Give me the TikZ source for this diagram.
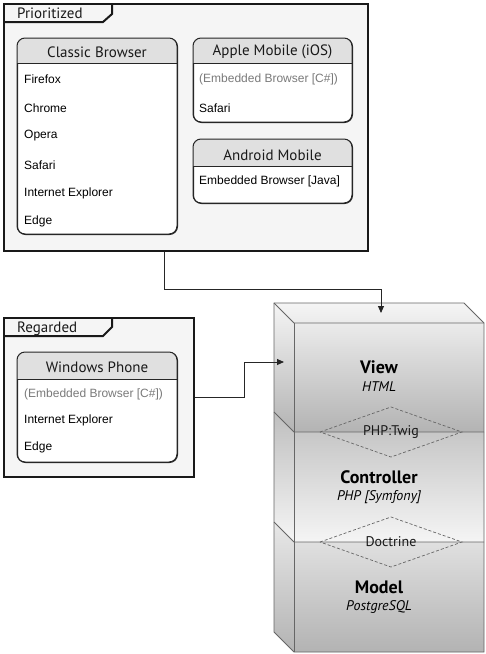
\documentclass[tikz,border=0pt]{standalone}
\usepackage{fontspec}
\setmainfont{Liberation Sans}
\newfontfamily\dinfont{PT Sans}
\usetikzlibrary{arrows.meta}
\definecolor{framebg}{HTML}{F5F5F5}
\definecolor{hdrbg}{HTML}{E0E0E0}
\definecolor{graytxt}{HTML}{7A7A7A}
\definecolor{cubelight}{HTML}{F5F5F5}
\definecolor{cubedark}{HTML}{B3B3B3}
\definecolor{cubeline}{HTML}{666666}
\tikzset{
  frame/.style={draw=black!90, line width=2pt, fill=framebg, inner sep=0pt, anchor=north west},
  tabline/.style={draw=black!90, line width=2pt, line join=miter},
  card/.style={draw=black!85, line width=1pt, fill=white, rounded corners=8pt, inner sep=0pt, anchor=north west},
  hdr/.style={font=\dinfont\fontsize{15}{17}\selectfont, inner sep=0pt, text=black!90},
  tablabel/.style={font=\dinfont\fontsize{15}{17}\selectfont, inner sep=0pt, anchor=west, text=black!90},
  item/.style={font=\fontsize{12}{14}\selectfont, inner sep=0pt, anchor=west},
  gitem/.style={item, text=graytxt},
  conn/.style={draw=black!85, line width=0.9pt},
  arr/.style={conn, -{Triangle[length=7pt,width=6pt]}},
  layer/.style={font=\dinfont\bfseries\fontsize{18}{20}\selectfont, inner sep=0pt},
  tech/.style={font=\dinfont\itshape\fontsize{14}{16}\selectfont, inner sep=0pt},
  rel/.style={inner sep=0pt, font=\dinfont\fontsize{14}{16}\selectfont, text=black!90},
  reldash/.style={draw=black!60, line width=0.7pt, dash pattern=on 3pt off 2pt},
  cubeedge/.style={draw=cubeline, line width=0.9pt, line join=miter}
}
\begin{document}
\begin{tikzpicture}[x=1pt,y=-1pt]
\useasboundingbox (0,0) rectangle (486,654);

% ---------- Prioritized frame ----------
\node[frame, minimum width=364pt, minimum height=247pt] (prio) at (3,3) {};
\draw[tabline] (3,22) -- (103,22) -- (112,14) -- (112,3);
\node[tablabel] (priolbl) at (17,13) {Prioritized};

% Classic Browser
\node[card, minimum width=160pt, minimum height=196pt] (classic) at (17,38) {};
\begin{scope}
  \clip[rounded corners=8pt] (17,38) rectangle (177,234);
  \fill[hdrbg] (17,38) rectangle (177,63);
\end{scope}
\draw[black!85, line width=1pt] (17,63) -- (177,63);
\draw[black!85, line width=1pt, rounded corners=8pt] (17,38) rectangle (177,234);
\node[hdr] (classichdr) at (97,52) {Classic Browser};
\node[item] (c1) at (24,79) {Firefox};
\node[item] (c2) at (24,108) {Chrome};
\node[item] (c3) at (24,136) {Opera};
\node[item] (c4) at (24,165) {Safari};
\node[item] (c5) at (24,193) {Internet Explorer};
\node[item] (c6) at (24,221) {Edge};

% Apple Mobile
\node[card, minimum width=159pt, minimum height=84pt] (apple) at (193,38) {};
\begin{scope}
  \clip[rounded corners=8pt] (193,38) rectangle (352,122);
  \fill[hdrbg] (193,38) rectangle (352,63);
\end{scope}
\draw[black!85, line width=1pt] (193,63) -- (352,63);
\draw[black!85, line width=1pt, rounded corners=8pt] (193,38) rectangle (352,122);
\node[hdr] (applehdr) at (272.5,52) {Apple Mobile (iOS)};
\node[gitem] (a1) at (199,79) {(Embedded Browser [C\#])};
\node[item] (a2) at (199,108) {Safari};

% Android Mobile
\node[card, minimum width=159pt, minimum height=64pt] (android) at (193,139) {};
\begin{scope}
  \clip[rounded corners=8pt] (193,139) rectangle (352,203);
  \fill[hdrbg] (193,139) rectangle (352,166);
\end{scope}
\draw[black!85, line width=1pt] (193,166) -- (352,166);
\draw[black!85, line width=1pt, rounded corners=8pt] (193,139) rectangle (352,203);
\node[hdr] (androidhdr) at (272.5,155) {Android Mobile};
\node[item] (d1) at (199,181) {Embedded Browser [Java]};

% ---------- Regarded frame ----------
\node[frame, minimum width=190pt, minimum height=159pt] (reg) at (3,317) {};
\draw[tabline] (3,336) -- (103,336) -- (112,327) -- (112,317);
\node[tablabel] (reglbl) at (17,329) {Regarded};

% Windows Phone
\node[card, minimum width=160pt, minimum height=110pt] (win) at (17,352) {};
\begin{scope}
  \clip[rounded corners=8pt] (17,352) rectangle (177,462);
  \fill[hdrbg] (17,352) rectangle (177,379);
\end{scope}
\draw[black!85, line width=1pt] (17,379) -- (177,379);
\draw[black!85, line width=1pt, rounded corners=8pt] (17,352) rectangle (177,462);
\node[hdr] (winhdr) at (97,367) {Windows Phone};
\node[gitem] (w1) at (24,394) {(Embedded Browser [C\#])};
\node[item] (w2) at (24,420) {Internet Explorer};
\node[item] (w3) at (24,447) {Edge};

% ---------- Cube (View / Controller / Model) ----------
\shade[top color=cubelight, bottom color=cubedark]
  (274,303) -- (464,303) -- (484,323) -- (484,432) -- (294,432) -- (274,412) -- cycle;
\shade[top color=cubedark!85!white, bottom color=cubelight]
  (274,412) -- (294,432) -- (484,432) -- (484,542) -- (294,542) -- (274,522) -- cycle;
\shade[top color=cubelight!80!cubedark, bottom color=cubedark]
  (274,522) -- (294,542) -- (484,542) -- (484,652) -- (294,652) -- (274,632) -- cycle;
\draw[cubeedge] (274,303) -- (464,303) -- (484,323) -- (484,652) -- (294,652) -- (274,632) -- cycle;
\draw[cubeedge] (274,303) -- (294,323) -- (484,323);
\draw[cubeedge] (294,323) -- (294,652);
\draw[cubeedge] (274,412) -- (294,432) -- (484,432);
\draw[cubeedge] (274,522) -- (294,542) -- (484,542);
\node[inner sep=0pt, minimum width=210pt, minimum height=349pt, anchor=north west] (cube) at (274,303) {};
\coordinate (viewtop) at (381,313);
\coordinate (viewside) at (284,362);

\node[layer] (view) at (379,367) {View};
\node[tech] (viewt) at (379,387) {HTML};
\node[layer] (ctrl) at (379,477) {Controller};
\node[tech] (ctrlt) at (379,497) {PHP [Symfony]};
\node[layer] (model) at (379,587) {Model};
\node[tech] (modelt) at (379,607) {PostgreSQL};

\node[rel] (twig) at (391,432) {PHP:Twig};
\draw[reldash] ([xshift=-71pt]twig.center) -- ([yshift=25pt]twig.center)
  -- ([xshift=71pt]twig.center) -- ([yshift=-25pt]twig.center) -- cycle;
\node[rel] (doctrine) at (391,542) {Doctrine};
\draw[reldash] ([xshift=-71pt]doctrine.center) -- ([yshift=25pt]doctrine.center)
  -- ([xshift=71pt]doctrine.center) -- ([yshift=-25pt]doctrine.center) -- cycle;

% ---------- Connectors ----------
\draw[arr] ([xshift=-22pt]prio.south) -- ++(0,37) -| (viewtop);
\draw[arr] (reg.east) -- ++(49,0) |- (viewside);
\end{tikzpicture}
\end{document}
